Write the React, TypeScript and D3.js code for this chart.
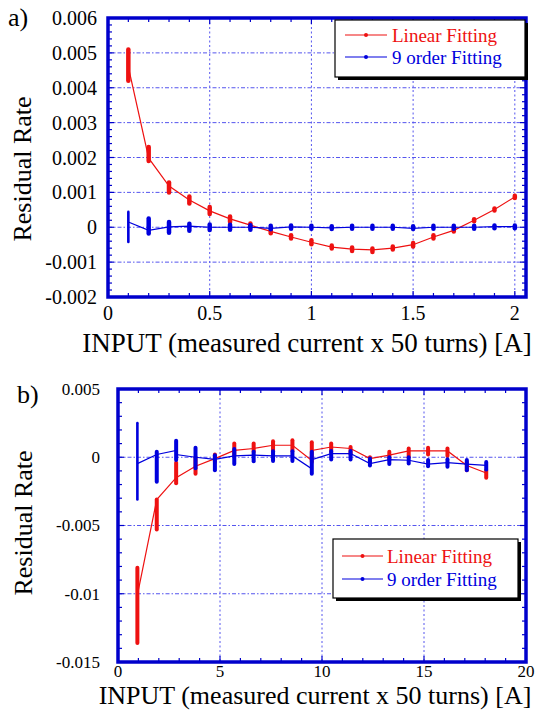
import React from 'react';
import * as d3 from 'd3';

// ---- panel a) data : residual rate vs input current (0.1 .. 2 A)
const inputA = [0.1, 0.2, 0.3, 0.4, 0.5, 0.6, 0.7, 0.8, 0.9, 1.0, 1.1, 1.2, 1.3, 1.4, 1.5, 1.6, 1.7, 1.8, 1.9, 2.0];
const linearA = [0.0046, 0.00198, 0.00118, 0.00078, 0.00047, 0.00024, 0.00006, -0.00012, -0.00028, -0.00043, -0.00057, -0.00063, -0.00065, -0.0006, -0.0005, -0.00028, -0.00009, 0.0002, 0.00051, 0.00087];
const linearALo = [0.0042, 0.0019, 0.001, 0.00068, 0.00038, 0.00015, 0.00001, -0.00017, -0.00032, -0.00049, -0.00061, -0.00068, -0.00071, -0.00064, -0.00055, -0.00032, -0.00012, 0.00017, 0.00048, 0.00084];
const linearAHi = [0.0051, 0.0023, 0.00128, 0.00088, 0.00058, 0.00031, 0.00011, -0.00008, -0.00023, -0.00037, -0.00052, -0.00058, -0.00061, -0.00055, -0.00045, -0.00023, -0.00006, 0.00023, 0.00054, 0.0009];
const nineA = [0.00015, -0.00009, 0.00001, 0.00003, 0, 0, 0, -0.00003, 0.00001, 0, -0.00002, 0, 0, 0, -0.00003, 0, 0, 0, 0.00002, 0.00002];
const nineALo = [-0.00042, -0.00018, -0.00016, -0.0001, -0.00008, -0.00007, -0.00007, -0.00006, -0.00004, -0.00004, -0.00005, -0.00004, -0.00004, -0.00004, -0.00005, -0.00004, -0.00004, -0.00004, -0.00003, -0.00003];
const nineAHi = [0.00044, 0.00025, 0.00015, 0.0001, 0.00008, 0.00007, 0.00006, 0.00004, 0.00005, 0.00004, 0.00003, 0.00004, 0.00004, 0.00004, 0.00003, 0.00004, 0.00004, 0.00004, 0.00005, 0.00005];

const xTicksA = [0, 0.5, 1, 1.5, 2];
const xTickLabelsA = ['0', '0.5', '1', '1.5', '2'];
const yTicksA = [-0.002, -0.001, 0, 0.001, 0.002, 0.003, 0.004, 0.005, 0.006];
const yTickLabelsA = ['-0.002', '-0.001', '0', '0.001', '0.002', '0.003', '0.004', '0.005', '0.006'];

// ---- panel b) data : residual rate vs input current (1 .. 18 A)
const inputB = [0.95, 1.9, 2.85, 3.8, 4.75, 5.7, 6.65, 7.6, 8.55, 9.5, 10.45, 11.4, 12.35, 13.3, 14.25, 15.2, 16.15, 17.1, 18.05];
const linearBIn = [-0.0101, -0.0031, -0.0015, -0.00066, -0.0001, 0.0005, 0.00064, 0.00088, 0.00088, -0.00024, 0.00075, 0.00064, -0.0001, 0.00015, 0.00046, 0.00046, 0.00046, -0.0006, -0.00115];
const linearBOut = [-0.0101, -0.0031, -0.0015, -0.00066, -0.0001, 0.0005, 0.00064, 0.00088, 0.00088, 0.0005, 0.00075, 0.00064, -0.0001, 0.00015, 0.00046, 0.00046, 0.00046, -0.0006, -0.00115];
const linearBLo = [-0.0136, -0.0053, -0.0019, -0.0012, -0.00034, 0.00015, 0.0004, 0.00046, 0.00046, -0.00034, 0.0004, 0.0002, -0.00034, -0.0002, 0, 0.0002, 0.0001, -0.00095, -0.0015];
const linearBHi = [-0.0081, -0.0031, -0.0004, 0, 0.0002, 0.001, 0.001, 0.00117, 0.00124, 0.0011, 0.001, 0.00075, 0, 0.0004, 0.00064, 0.0007, 0.00064, -0.00034, -0.00095];
const nineBIn = [-0.00047, 0.0002, 0.0005, 0, -0.00015, 0.0001, 0.00015, 0.0001, 0.0001, -0.00085, 0.00027, 0.00027, -0.00046, -0.00017, -0.00022, -0.0005, -0.0004, -0.0005, -0.0006];
const nineBOut = [-0.00047, 0.0002, 0.0002, 0, -0.00015, 0.0001, 0.00015, 0.0001, 0.0001, -0.00017, 0.00027, 0.00027, -0.00046, -0.00017, -0.00022, -0.0005, -0.0004, -0.0005, -0.0006];
const nineBLo = [-0.0031, -0.0018, -0.0002, -0.0008, -0.00095, -0.0005, -0.0003, -0.00027, -0.00027, -0.0012, -0.00017, -0.00017, -0.0006, -0.0005, -0.00046, -0.00066, -0.0007, -0.00095, -0.0009];
const nineBHi = [0.0025, 0.0004, 0.0012, 0.0007, 0.00015, 0.0006, 0.0004, 0.00044, 0.00044, 0.0004, 0.00046, 0.00046, -0.0001, 0, 0, -0.0002, -0.00015, -0.0002, -0.00034];

const xTicksB = [0, 5, 10, 15, 20];
const xTickLabelsB = ['0', '5', '10', '15', '20'];
const yTicksB = [-0.015, -0.01, -0.005, 0, 0.005];
const yTickLabelsB = ['-0.015', '-0.01', '-0.005', '0', '0.005'];

const FONT = "'Liberation Serif', 'DejaVu Serif', 'Times New Roman', serif";
const RED = '#ee1111';
const BLUE = '#0000dd';
const FRAME = '#0000cc';
const GRID = '#5555ee';
const X_TITLE = 'INPUT (measured current x 50 turns) [A]';

function Panel({ cfg }) {
  const { box, xDomain, yDomain } = cfg;
  const x = d3.scaleLinear().domain(xDomain).range([box.left, box.right]);
  const y = d3.scaleLinear().domain(yDomain).range([box.bottom, box.top]);
  const line = d3.line();

  const minorX = x.ticks(cfg.minorX);
  const minorY = y.ticks(cfg.minorY);
  const majorX = cfg.xTicks;
  const majorY = cfg.yTicks;
  const gridX = majorX.filter((v) => x(v) > box.left + 2 && x(v) < box.right - 2);
  const gridY = majorY.filter((v) => y(v) > box.top + 2 && y(v) < box.bottom - 2);

  const lg = cfg.legend;
  const txt = (size) => ({ fontFamily: FONT, fontSize: size });

  return (
    <g>
      {/* grid */}
      {gridX.map((v) => (
        <line key={'gx' + v} x1={x(v)} x2={x(v)} y1={box.top} y2={box.bottom}
          stroke={GRID} strokeWidth={1} strokeDasharray="2,2.5" />
      ))}
      {gridY.map((v) => (
        <line key={'gy' + v} x1={box.left} x2={box.right} y1={y(v)} y2={y(v)}
          stroke={GRID} strokeWidth={1} strokeDasharray="4,2,1.5,2" />
      ))}

      {/* inner ticks on all four sides */}
      {minorX.map((v) => {
        const len = majorX.includes(v) ? 6 : 4;
        return (
          <g key={'tx' + v}>
            <line x1={x(v)} x2={x(v)} y1={box.bottom} y2={box.bottom - len} stroke={FRAME} strokeWidth={1.2} />
            <line x1={x(v)} x2={x(v)} y1={box.top} y2={box.top + len} stroke={FRAME} strokeWidth={1.2} />
          </g>
        );
      })}
      {minorY.map((v) => {
        const len = majorY.some((m) => Math.abs(m - v) < 1e-9) ? 6 : 4;
        return (
          <g key={'ty' + v}>
            <line x1={box.left} x2={box.left + len} y1={y(v)} y2={y(v)} stroke={FRAME} strokeWidth={1.2} />
            <line x1={box.right} x2={box.right - len} y1={y(v)} y2={y(v)} stroke={FRAME} strokeWidth={1.2} />
          </g>
        );
      })}

      {/* series */}
      {cfg.series.map((s) => {
        const pts = [];
        cfg.xs.forEach((xv, i) => {
          pts.push([x(xv), y(s.lineIn[i])]);
          pts.push([x(xv), y(s.lineOut[i])]);
        });
        return (
          <g key={s.name}>
            <path d={line(pts)} fill="none" stroke={s.color} strokeWidth={1.2} />
            {cfg.xs.map((xv, i) => (
              <line key={i} x1={x(xv)} x2={x(xv)} y1={y(s.lo[i])} y2={y(s.hi[i])}
                stroke={s.color} strokeWidth={i === 0 && s.thinFirst ? 2.6 : cfg.clusterWidth} strokeLinecap="round" />
            ))}
          </g>
        );
      })}

      {/* frame */}
      <rect x={box.left} y={box.top} width={box.right - box.left} height={box.bottom - box.top}
        fill="none" stroke={FRAME} strokeWidth={3.5} />

      {/* tick labels */}
      {majorX.map((v, i) => (
        <text key={'lx' + v} x={x(v)} y={cfg.xLabelY} textAnchor="middle" style={txt(cfg.tickFont)}>
          {cfg.xTickLabels[i]}
        </text>
      ))}
      {majorY.map((v, i) => (
        <text key={'ly' + v} x={cfg.yLabelX} y={y(v)} dy="0.35em" textAnchor="end" style={txt(cfg.tickFont)}>
          {cfg.yTickLabels[i]}
        </text>
      ))}

      {/* titles */}
      <text transform={`translate(${cfg.yTitle.x},${cfg.yTitle.y}) rotate(-90)`} textAnchor="middle"
        style={txt(cfg.yTitle.size)}>Residual Rate</text>
      <text x={cfg.xTitle.x} y={cfg.xTitle.y} textAnchor="middle" style={txt(cfg.xTitle.size)}>{X_TITLE}</text>
      <text x={cfg.tag.x} y={cfg.tag.y} style={txt(cfg.tag.size)}>{cfg.tag.text}</text>

      {/* legend */}
      <rect x={lg.x + 3} y={lg.y + 3} width={lg.w} height={lg.h} fill="#000" />
      <rect x={lg.x} y={lg.y} width={lg.w} height={lg.h} fill="#fff" stroke="#000" strokeWidth={1.2} />
      {cfg.series.map((s, i) => {
        const ly = lg.rows[i];
        return (
          <g key={'lg' + s.name}>
            <line x1={lg.x1} x2={lg.x2} y1={ly} y2={ly} stroke={s.color} strokeWidth={1.2} />
            <circle cx={(lg.x1 + lg.x2) / 2} cy={ly} r={2} fill={s.color} />
            <text x={lg.tx} y={ly + 7} fill={s.color} style={txt(lg.font)}>{s.name}</text>
          </g>
        );
      })}
    </g>
  );
}

const panelA = {
  box: { left: 108, right: 526, top: 18, bottom: 297 },
  xDomain: [0, 2.055],
  yDomain: [-0.002, 0.006],
  minorX: 20,
  minorY: 40,
  xTicks: xTicksA,
  xTickLabels: xTickLabelsA,
  yTicks: yTicksA,
  yTickLabels: yTickLabelsA,
  tickFont: 20,
  xLabelY: 320,
  yLabelX: 97,
  clusterWidth: 4.5,
  xs: inputA,
  series: [
    { name: 'Linear Fitting', color: RED, lineIn: linearA, lineOut: linearA, lo: linearALo, hi: linearAHi },
    { name: '9 order Fitting', color: BLUE, lineIn: nineA, lineOut: nineA, lo: nineALo, hi: nineAHi, thinFirst: true },
  ],
  yTitle: { x: 31, y: 169, size: 26 },
  xTitle: { x: 307, y: 352, size: 27 },
  tag: { x: 8, y: 26, size: 26, text: 'a)' },
  legend: { x: 335, y: 20, w: 190, h: 57, rows: [35, 57], x1: 345, x2: 387, tx: 392, font: 19 },
};

const panelB = {
  box: { left: 118, right: 526, top: 389, bottom: 662 },
  xDomain: [0, 20],
  yDomain: [-0.015, 0.005],
  minorX: 20,
  minorY: 20,
  xTicks: xTicksB,
  xTickLabels: xTickLabelsB,
  yTicks: yTicksB,
  yTickLabels: yTickLabelsB,
  tickFont: 17,
  xLabelY: 677,
  yLabelX: 100,
  clusterWidth: 4,
  xs: inputB,
  series: [
    { name: 'Linear Fitting', color: RED, lineIn: linearBIn, lineOut: linearBOut, lo: linearBLo, hi: linearBHi },
    { name: '9 order Fitting', color: BLUE, lineIn: nineBIn, lineOut: nineBOut, lo: nineBLo, hi: nineBHi, thinFirst: true },
  ],
  yTitle: { x: 32, y: 523, size: 26 },
  xTitle: { x: 315, y: 704, size: 26 },
  tag: { x: 17, y: 403, size: 26, text: 'b)' },
  legend: { x: 333, y: 539, w: 185, h: 59, rows: [556, 579], x1: 342, x2: 383, tx: 387, font: 19 },
};

export default function App() {
  return (
    <svg width={556} height={711} style={{ position: 'absolute', left: 0, top: 0, background: '#fff' }}>
      <Panel cfg={panelA} />
      <Panel cfg={panelB} />
    </svg>
  );
}
